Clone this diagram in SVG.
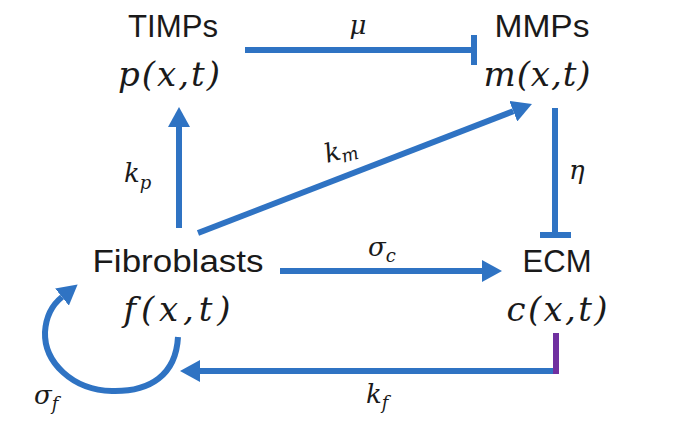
<svg xmlns="http://www.w3.org/2000/svg" width="680" height="425" viewBox="0 0 680 425">
  <style>
    .name { font-family: "Liberation Sans", Arial, sans-serif; font-size: 31px; fill: #1a1a1a; text-anchor: middle; }
    .var { font-family: "DejaVu Serif", "Liberation Serif", serif; font-style: italic; font-size: 34px; fill: #1a1a1a; text-anchor: middle; }
    .lbl { font-family: "DejaVu Serif", "Liberation Serif", serif; font-style: italic; font-size: 26px; fill: #1a1a1a; }
    .sub { font-size: 18px; }
    .edge { fill: none; stroke: #2F73C3; stroke-width: 6; }
  </style>
  <defs>
    <marker id="arrow" markerUnits="userSpaceOnUse" viewBox="0 0 20 22" markerWidth="20" markerHeight="22" refX="0" refY="11" orient="auto">
      <path d="M0,0 L20,11 L0,22 z" fill="#2F73C3"/>
    </marker>
  </defs>
  <rect width="680" height="425" fill="#ffffff"/>

  <g id="connectors">
    <g id="edge-mu">
      <line class="edge" x1="245" y1="50" x2="474" y2="50"/>
      <line class="edge" x1="474" y1="35" x2="474" y2="65"/>
    </g>
    <line id="edge-kp" class="edge" x1="179" y1="228" x2="179" y2="127" marker-end="url(#arrow)"/>
    <line id="edge-km" class="edge" x1="198" y1="233" x2="513.3" y2="111.2" marker-end="url(#arrow)"/>
    <g id="edge-eta">
      <line class="edge" x1="555" y1="108" x2="555" y2="235"/>
      <line class="edge" x1="540" y1="235" x2="571" y2="235"/>
    </g>
    <line id="edge-sc" class="edge" x1="280" y1="271" x2="482" y2="271" marker-end="url(#arrow)"/>
    <g id="edge-kf">
      <line class="edge" x1="556" y1="371" x2="200" y2="371" marker-end="url(#arrow)"/>
      <line x1="556" y1="333" x2="556" y2="374" stroke="#7030A0" stroke-width="6"/>
    </g>
    <path id="edge-sf" class="edge" d="M178,337 C176,375 150,392 112,391 C72,390 44,362 45,332 C46,316 52,305 62,297" marker-end="url(#arrow)"/>
  </g>

  <g id="node-timps">
    <text class="name" x="173" y="37" textLength="90" lengthAdjust="spacingAndGlyphs">TIMPs</text>
    <text class="var" x="169" y="86" textLength="102" lengthAdjust="spacing">p(x,t)</text>
  </g>
  <g id="node-mmps">
    <text class="name" x="542" y="37" textLength="95" lengthAdjust="spacingAndGlyphs">MMPs</text>
    <text class="var" x="537" y="86" textLength="107" lengthAdjust="spacing">m(x,t)</text>
  </g>
  <g id="node-fibroblasts">
    <text class="name" x="178" y="272" textLength="171" lengthAdjust="spacingAndGlyphs">Fibroblasts</text>
    <text class="var" x="177" y="321" textLength="107" lengthAdjust="spacing">f(x,t)</text>
  </g>
  <g id="node-ecm">
    <text class="name" x="557" y="272" textLength="69" lengthAdjust="spacingAndGlyphs">ECM</text>
    <text class="var" x="557" y="321" textLength="101" lengthAdjust="spacing">c(x,t)</text>
  </g>

  <g id="labels">
    <text class="lbl" x="358" y="34" text-anchor="middle" font-size="22">μ</text>
    <text class="lbl" x="124" y="182">k<tspan class="sub" dy="7">p</tspan></text>
    <text class="lbl" x="327" y="163" transform="rotate(-15 327 163)">k<tspan class="sub" dy="4">m</tspan></text>
    <text class="lbl" x="569" y="179">η</text>
    <text class="lbl" x="368" y="256">σ<tspan class="sub" dy="6">c</tspan></text>
    <text class="lbl" x="366" y="403">k<tspan class="sub" dy="6">f</tspan></text>
    <text class="lbl" x="34" y="404">σ<tspan class="sub" dy="6">f</tspan></text>
  </g>
</svg>
